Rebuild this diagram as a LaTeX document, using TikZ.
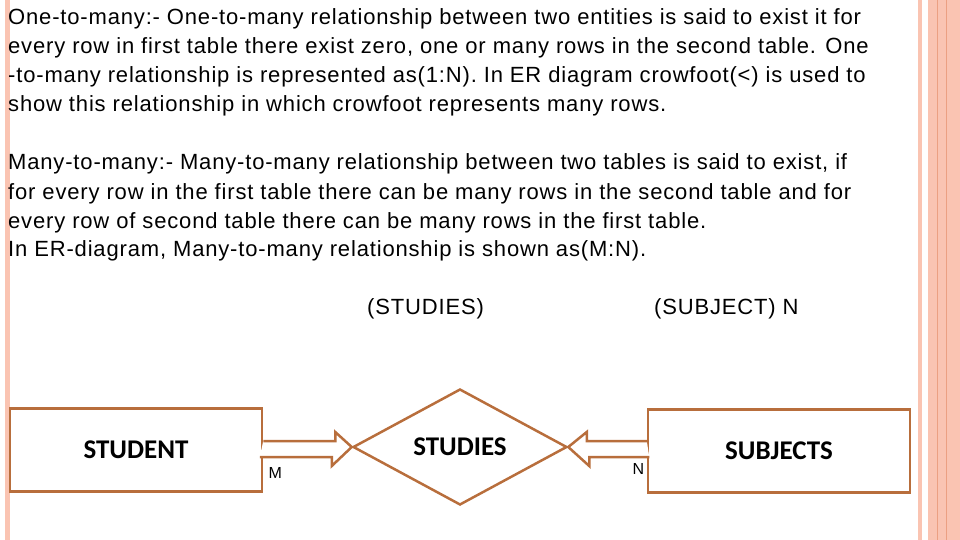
\documentclass[tikz,border=0pt]{standalone}
\usepackage{fontspec}
\setmainfont[LetterSpace=3.8]{Liberation Sans}
\newfontfamily\boldlabel{Carlito}
\usetikzlibrary{shapes.geometric,calc}
\definecolor{erbrown}{RGB}{184,110,60}
\definecolor{stripe}{RGB}{250,196,178}
\definecolor{stripedark}{RGB}{236,160,130}
\tikzset{
 line/.style={anchor=base west,inner sep=0pt,font=\fontsize{22}{26}\selectfont},
 entity/.style={draw=erbrown,line width=2.5pt,minimum height=83pt,font=\boldlabel\bfseries\fontsize{27}{30}\selectfont},
 relation/.style={draw=erbrown,line width=2.5pt,diamond,minimum width=214pt,minimum height=116pt,inner sep=0pt,font=\boldlabel\bfseries\fontsize{27}{30}\selectfont},
 fatarrow/.style={draw=erbrown,line width=2.5pt,fill=white,line join=miter}
}
\begin{document}
\begin{tikzpicture}[x=1pt,y=-1pt]
\useasboundingbox (0,0) rectangle (960,540);
% side stripes
\fill[stripe] (5,0) rectangle (10,540);
\fill[stripe] (918,0) rectangle (922,540);
\fill[stripe] (928,0) rectangle (960,540);
\draw[stripedark,line width=1pt] (937,0) -- (937,540);
\draw[stripedark,line width=1pt] (946,0) -- (946,540);

% text
\node[line] (t1) at (8,25) {One-to-many:- One-to-many relationship between two entities is said to exist it for};
\node[line] (t2) at (8,54) {every row in first table there exist zero, one or many rows in the second table. One};
\node[line] (t3) at (8,83) {-to-many relationship is represented as(1:N). In ER diagram crowfoot(<) is used to};
\node[line] (t4) at (8,112) {show this relationship in which crowfoot represents many rows.};
\node[line] (t5) at (8,170) {Many-to-many:- Many-to-many relationship between two tables is said to exist, if};
\node[line] (t6) at (8,199) {for every row in the first table there can be many rows in the second table and for};
\node[line] (t7) at (8,228) {every row of second table there can be many rows in the first table.};
\node[line] (t8) at (8,256) {In ER-diagram, Many-to-many relationship is shown as(M:N).};
\node[line] (lstud) at (367,314) {(STUDIES)};
\node[line] (lsubj) at (654,314) {(SUBJECT) N};

% diagram
\node[entity,minimum width=252pt] (student) at (136,450) {STUDENT};
\node[relation] (studies) at (460,447) {\raisebox{-4pt}{STUDIES}};
\node[entity,minimum width=262pt] (subjects) at (779,451) {SUBJECTS};

\draw[fatarrow] (student.east) ++(0,-9) -- ++(72,0) -- ++(0,-9) -- (studies.west) -- ++(-20,19)
 -- ++(0,-9) -- ++(-72,0);
\draw[fatarrow] (subjects.west) ++(0,-10) -- ++(-60,0) -- ++(0,-9) -- (studies.east) -- ++(21,19)
 -- ++(0,-9) -- ++(60,0);
\node[anchor=base west,font=\fontsize{16}{18}\selectfont] (m) at (265,478) {M};
\node[anchor=base west,font=\fontsize{16}{18}\selectfont] (n) at (629,474) {N};
\end{tikzpicture}
\end{document}
